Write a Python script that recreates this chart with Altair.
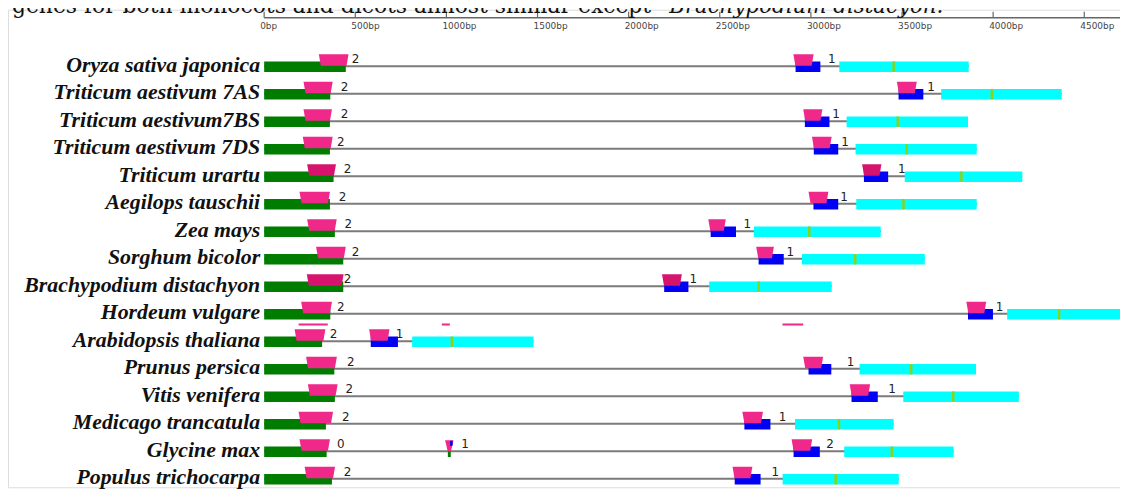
import altair as alt
import pandas as pd

# ---------------- data (bp) ----------------
species = ["Oryza sativa japonica", "Triticum aestivum 7AS", "Triticum aestivum7BS",
           "Triticum aestivum 7DS", "Triticum urartu", "Aegilops tauschii", "Zea mays",
           "Sorghum bicolor", "Brachypodium distachyon", "Hordeum vulgare",
           "Arabidopsis thaliana", "Prunus persica", "Vitis venifera",
           "Medicago trancatula", "Glycine max", "Populus trichocarpa"]

exon1_end   = [448, 363, 361, 361, 381, 361, 388, 434, 434, 363, 318, 385, 388, 339, 343, 372]
dom1_start  = [300, 216, 216, 212, 236, 194, 236, 285, 234, 203, 167, 230, 240, 189, 194, 222]
dom1_end    = [463, 376, 372, 376, 394, 361, 398, 448, 436, 372, 336, 399, 403, 378, 361, 389]
exon2_start = [2916, 3481, 2967, 3016, 3291, 3014, 2450, 2713, 2195, 3862, 585, 2987, 3223, 2635, 2905, 2582]
exon2_end   = [3052, 3617, 3102, 3150, 3424, 3150, 2589, 2851, 2328, 3999, 734, 3112, 3367, 2778, 3049, 2724]
dom2_start  = [2904, 3472, 2958, 3006, 3281, 2987, 2437, 2700, 2183, 3853, 576, 2958, 3213, 2624, 2894, 2570]
dom2_end    = [3015, 3581, 3063, 3114, 3387, 3096, 2533, 2797, 2292, 3962, 688, 3067, 3325, 2737, 3007, 2679]
exon3_start = [3156, 3715, 3196, 3245, 3515, 3249, 2687, 2951, 2442, 4077, 812, 3267, 3507, 2913, 3183, 2845]
exon3_end   = [3866, 4376, 3862, 3910, 4160, 3910, 3383, 3625, 3114, 4720, 1478, 3906, 4141, 3454, 3783, 3482]
motif_pos   = [3454, 3993, 3477, 3526, 3826, 3508, 2991, 3243, 2713, 4362, 1030, 3550, 3781, 3154, 3444, 3136]

phase1_label = ["2", "2", "2", "2", "2", "2", "2", "2", "2", "2", "2", "2", "2", "2", "0", "2"]
phase1_pos   = [501, 441, 441, 421, 458, 430, 461, 501, 458, 421, 381, 476, 467, 448, 421, 458]
phase2_label = ["1", "1", "1", "1", "1", "1", "1", "1", "1", "1", "1", "1", "1", "1", "2", "1"]
phase2_pos   = [3115, 3659, 3138, 3187, 3499, 3182, 2651, 2887, 2355, 4035, 743, 3218, 3445, 2845, 3105, 2804]

# Glycine max has one extra tiny exon
extra_exon = {"row": 14, "start": 1008, "end": 1024, "dom_start": 993, "dom_end": 1039,
              "phase": "1", "phase_pos": 1102}

# stray pink dashes under Hordeum vulgare
stray_row = 9
stray_start = [189, 975, 2844]
stray_end = [349, 1019, 2958]

tick_values = [0, 500, 1000, 1500, 2000, 2500, 3000, 3500, 4000, 4500]
tick_labels = ["0bp", "500bp", "1000bp", "1500bp", "2000bp", "2500bp", "3000bp",
               "3500bp", "4000bp", "4500bp"]

caption_plain = "genes for both monocots and dicots almost similar except"
caption_italic = "Brachypodium distacyon."

dark_domain_rows = [4, 8]

# ---------------- layout helpers ----------------
W, H = 1120, 481
BP_PER_PX = 4500 / (1092 - 266)
ROW_PX = 27.7


def dy(px):
    return px / ROW_PX


x_lo = -258 * BP_PER_PX
x_hi = (W - 258) * BP_PER_PX
y_lo = -57.35 / ROW_PX
y_hi = (H - 57.35) / ROW_PX

xs = alt.Scale(domain=[x_lo, x_hi], nice=False, zero=False)
ys = alt.Scale(domain=[y_lo, y_hi], reverse=True, nice=False, zero=False)

parts = ["green", "blue", "cyan", "motif", "pink", "darkpink"]
colors = ["#007d00", "#0000f5", "#00ffff", "#8ad21c", "#f0288a", "#d6146e"]
cs = alt.Scale(domain=parts, range=colors)

boxes, overlay, traps, lines, phases = [], [], [], [], []


def add_box(store, i, a, b, top, bot, part):
    store.append({"x": a, "x2": b, "y": i + dy(top), "y2": i + dy(bot), "part": part})


tid = [0]


def add_trap(i, a, b, part, inset=2 * BP_PER_PX, top=-12.5, bot=-1.0):
    tid[0] += 1
    traps.append({"id": tid[0], "y": i + dy(top), "x": a, "x2": b, "part": part})
    traps.append({"id": tid[0], "y": i + dy(bot), "x": a + inset, "x2": b - inset, "part": part})


for i in range(len(species)):
    lines.append({"x": 0, "x2": exon3_end[i], "y": i + dy(-0.5)})
    add_box(boxes, i, 0, exon1_end[i], -5.3, 5.3, "green")
    add_box(boxes, i, exon2_start[i], exon2_end[i], -5.3, 5.3, "blue")
    add_box(boxes, i, exon3_start[i], exon3_end[i], -5.3, 5.3, "cyan")
    add_box(boxes, i, motif_pos[i] - 7, motif_pos[i] + 7, -5.3, 5.3, "motif")
    shade = "darkpink" if i in dark_domain_rows else "pink"
    add_trap(i, dom1_start[i], dom1_end[i], shade)
    add_trap(i, dom2_start[i], dom2_end[i], shade)
    phases.append({"x": phase1_pos[i], "y": i + dy(-7.5), "t": phase1_label[i]})
    phases.append({"x": phase2_pos[i], "y": i + dy(-7.5), "t": phase2_label[i]})

e = extra_exon
add_box(boxes, e["row"], e["start"], e["end"], -0.5, 5.3, "green")
add_trap(e["row"], e["dom_start"], e["dom_end"], "pink", inset=14, top=-11.5, bot=-0.5)
add_box(overlay, e["row"], e["end"] - 4, e["end"] + 10, -11, -6, "blue")
phases.append({"x": e["phase_pos"], "y": e["row"] + dy(-7.5), "t": e["phase"]})

for a, b in zip(stray_start, stray_end):
    add_box(overlay, stray_row, a, b, 9.5, 11.5, "pink")

labels = pd.DataFrame({"name": species, "y": list(range(len(species))), "x": 0})
ruler = pd.DataFrame({"x": [0], "x2": [exon3_end[9]]})
ticks = pd.DataFrame({"x": tick_values, "t": tick_labels})

X = lambda f="x": alt.X(f"{f}:Q", scale=xs, axis=None)
Y = lambda f="y": alt.Y(f"{f}:Q", scale=ys, axis=None)
C = alt.Color("part:N", scale=cs, legend=None)

intron_layer = alt.Chart(pd.DataFrame(lines)).mark_rule(
    color="#7b7b7b", strokeWidth=2, clip=True).encode(x=X(), x2="x2:Q", y=Y())

box_layer = alt.Chart(pd.DataFrame(boxes)).mark_rect(clip=True).encode(
    x=X(), x2="x2:Q", y=Y(), y2="y2:Q", color=C)

trap_layer = alt.Chart(pd.DataFrame(traps)).mark_area(
    orient="horizontal", opacity=1, clip=True).encode(
    y=Y(), x=X(), x2="x2:Q", detail="id:N", color=C)

overlay_layer = alt.Chart(pd.DataFrame(overlay)).mark_rect(clip=True).encode(
    x=X(), x2="x2:Q", y=Y(), y2="y2:Q", color=C)

phase_layer = alt.Chart(pd.DataFrame(phases)).mark_text(
    font="DejaVu Sans", fontSize=12, color="#222222", baseline="middle", align="center").encode(
    x=X(), y=Y(), text="t:N")

label_layer = alt.Chart(labels).mark_text(
    font="Liberation Serif", fontStyle="italic", fontWeight="bold", fontSize=22,
    color="#111111", align="right", baseline="alphabetic", dx=-4, dy=5).encode(
    x=X(), y=Y(), text="name:N")

ruler_layer = alt.Chart(ruler).mark_rule(color="#666666", strokeWidth=1.5, clip=True).encode(
    x=X(), x2="x2:Q", y=alt.value(8))

tick_layer = alt.Chart(ticks).mark_rule(color="#666666", strokeWidth=1.2).encode(
    x=X(), y=alt.value(2), y2=alt.value(8))

tick_text_layer = alt.Chart(ticks).mark_text(
    font="DejaVu Sans", fontSize=9, color="#444444", align="left", dx=-4,
    baseline="alphabetic").encode(x=X(), y=alt.value(19), text="t:N")

title_layer = alt.Chart(pd.DataFrame({"t": [caption_plain]})).mark_text(
    font="DejaVu Serif", fontSize=22, color="#111111", align="left",
    baseline="alphabetic").encode(x=alt.value(4), y=alt.value(3), text="t:N")
title_layer2 = alt.Chart(pd.DataFrame({"t": [caption_italic]})).mark_text(
    font="DejaVu Serif", fontStyle="italic", fontSize=21.5, color="#111111", align="left",
    baseline="alphabetic").encode(x=alt.value(666), y=alt.value(3), text="t:N")

chart = alt.layer(
    intron_layer, box_layer, trap_layer, overlay_layer, phase_layer, label_layer,
    ruler_layer, tick_layer, tick_text_layer, title_layer, title_layer2
).properties(
    width=W, height=H, autosize=alt.AutoSizeParams(type="none"), padding=0
).configure_view(stroke=None).configure(background="white")

chart.save("out.html", embed_options={"renderer": "svg", "actions": False})
